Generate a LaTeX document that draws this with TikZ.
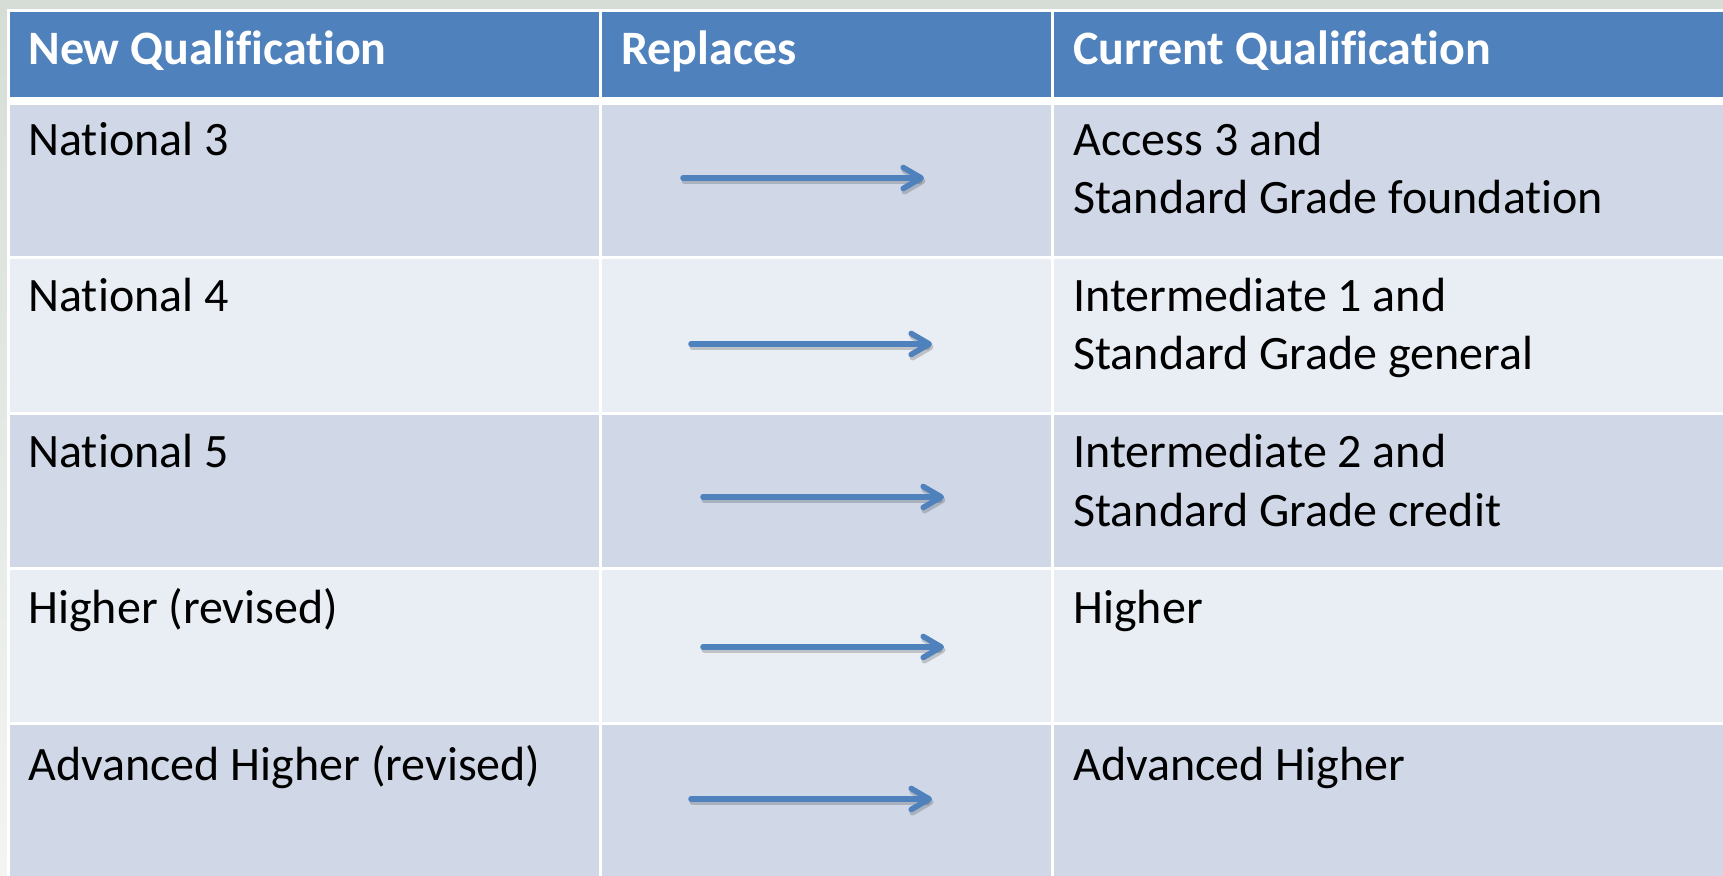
\documentclass[tikz,border=0pt]{standalone}
\usepackage{fontspec}
\setmainfont{Carlito}[Ligatures=NoCommon]
\usetikzlibrary{arrows.meta}
\definecolor{hdr}{HTML}{4F81BD}
\definecolor{rowA}{HTML}{D0D8E8}
\definecolor{rowB}{HTML}{E9EDF4}
\definecolor{bgtop}{HTML}{D6DDD6}
\definecolor{bgbot}{HTML}{F3F5F3}
\begin{document}
\begin{tikzpicture}[x=0.5pt,y=-0.5pt,
  hd/.style={anchor=base west, inner sep=0pt, text=white, font=\fontsize{24pt}{28pt}\selectfont\bfseries},
  tx/.style={anchor=base west, inner sep=0pt, text=black, font=\fontsize{24pt}{28pt}\selectfont},
  arr/.style={draw=hdr, line width=2.8pt, line cap=round, -{Straight Barb[length=9pt,width=10.5pt,line cap=round,line join=round]}},
  shd/.style={draw=black, opacity=0.18, line width=3pt, line cap=round, -{Straight Barb[length=9pt,width=10.5pt,line cap=round,line join=round]}}]
\useasboundingbox (0,0) rectangle (1723,876);
% background
\shade[top color=bgtop, bottom color=bgbot] (0,0) rectangle (1723,876);
% table white base
\fill[white] (7,9) rectangle (1723,876);
% header
\fill[hdr] (10,12) rectangle (599,97);
\fill[hdr] (602,12) rectangle (1051,97);
\fill[hdr] (1054,12) rectangle (1723,97);
% rows
\foreach \ya/\yb/\c in {105/256/rowA, 259/412/rowB, 415/567/rowA, 570/722/rowB, 725/876/rowA}{
  \fill[\c] (10,\ya) rectangle (599,\yb);
  \fill[\c] (602,\ya) rectangle (1051,\yb);
  \fill[\c] (1054,\ya) rectangle (1723,\yb);
}
% header text
\node[hd] (h1) at (28,65) {New Qualification};
\node[hd] (h2) at (621,65) {Replaces};
\node[hd] (h3) at (1073,65) {Current Qualification};
% column 1
\node[tx] (n1) at (28,156) {National 3};
\node[tx] (n2) at (28,312) {National 4};
\node[tx] (n3) at (28,468) {National 5};
\node[tx] (n4) at (28,623) {Higher (revised)};
\node[tx] (n5) at (28,780) {Advanced Higher (revised)};
% column 3
\node[tx] (c1a) at (1073,156) {Access 3 and};
\node[tx] (c1b) at (1073,214) {Standard Grade foundation};
\node[tx] (c2a) at (1073,312) {Intermediate 1 and};
\node[tx] (c2b) at (1073,370) {Standard Grade general};
\node[tx] (c3a) at (1073,468) {Intermediate 2 and};
\node[tx] (c3b) at (1073,526) {Standard Grade credit};
\node[tx] (c4a) at (1073,623) {Higher};
\node[tx] (c5a) at (1073,780) {Advanced Higher};
% arrows
\foreach \i/\xa/\xb/\y in {1/683/924/178, 2/691/932/344, 3/703/944/497, 4/703/944/647, 5/691/932/799}{
  \coordinate (as\i) at (\xa,\y);
  \coordinate (ae\i) at (\xb,\y);
  \draw[shd] ([shift={(1.5,3)}]as\i) -- ([shift={(1.5,3)}]ae\i);
  \draw[arr] (as\i) -- (ae\i);
}
\end{tikzpicture}
\end{document}
